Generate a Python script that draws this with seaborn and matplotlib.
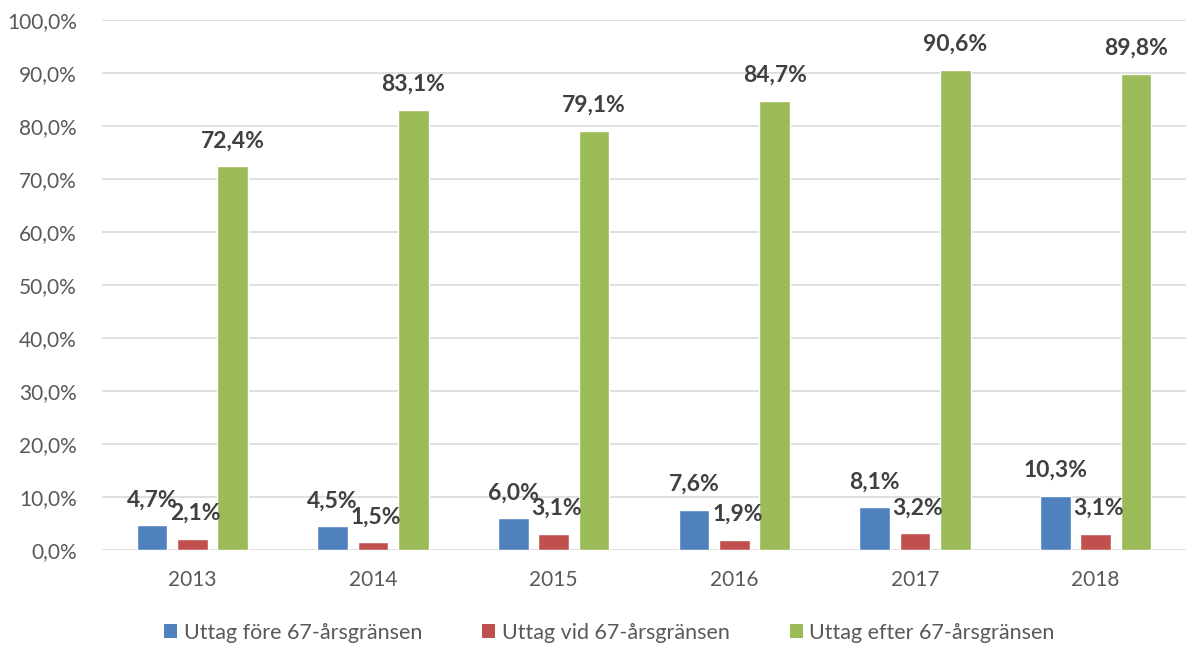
import matplotlib
matplotlib.use("Agg")
import matplotlib.pyplot as plt
import seaborn as sns
import pandas as pd
from matplotlib.patches import Patch
from matplotlib.ticker import FuncFormatter

years = ["2013", "2014", "2015", "2016", "2017", "2018"]
series_names = ["Uttag före 67-årsgränsen", "Uttag vid 67-årsgränsen", "Uttag efter 67-årsgränsen"]
fore = [4.7, 4.5, 6.0, 7.6, 8.1, 10.3]
vid = [2.1, 1.5, 3.1, 1.9, 3.2, 3.1]
efter = [72.4, 83.1, 79.1, 84.7, 90.6, 89.8]
colors = ["#4F81BD", "#C0504D", "#9BBB59"]

rows = []
for name, vals in zip(series_names, [fore, vid, efter]):
    for y, v in zip(years, vals):
        rows.append({"year": y, "series": name, "value": v})
df = pd.DataFrame(rows)

sns.set_style("white")
plt.rcParams["font.family"] = ["Lato", "DejaVu Sans"]

fig = plt.figure(figsize=(11.86, 6.45), dpi=100)
ax = fig.add_axes([0.086, 0.147, 0.914, 0.822])

sns.barplot(data=df, x="year", y="value", hue="series", hue_order=series_names,
            order=years, palette=colors, width=0.67, gap=0.24, ax=ax,
            legend=False, errorbar=None, saturation=1)

ax.set_ylim(0, 100)
ax.set_yticks(range(0, 101, 10))
ax.yaxis.set_major_formatter(FuncFormatter(lambda v, p: f"{v:.1f}%".replace(".", ",")))
ax.grid(axis="y", color="#D9D9D9", linewidth=1.2)
ax.set_axisbelow(True)
for s in ax.spines.values():
    s.set_visible(False)
ax.set_xlabel("")
ax.set_ylabel("")
ax.tick_params(axis="both", length=0, labelsize=15, colors="#595959")
ax.tick_params(axis="y", pad=18)
ax.tick_params(axis="x", pad=14)
ax.set_xlim(-0.5, 5.5)

for i, cont in enumerate(ax.containers):
    for bar in cont:
        h = bar.get_height()
        dx = 3 if i == 1 else 0
        ax.annotate(f"{h:.1f}%".replace(".", ","),
                    (bar.get_x() + bar.get_width() / 2, h),
                    xytext=(dx, 15), textcoords="offset pixels",
                    ha="center", va="bottom", fontsize=16.5, fontweight="bold",
                    color="#404040")

handles = [Patch(facecolor=c, edgecolor="none") for c in colors]
fig.legend(handles, series_names, loc="center", bbox_to_anchor=(0.514, 0.019),
           ncol=3, frameon=False, fontsize=15.5, labelcolor="#595959",
           handlelength=0.6, handleheight=0.6, handletextpad=0.3, columnspacing=2.8)

fig.savefig("out.png", dpi=100)
